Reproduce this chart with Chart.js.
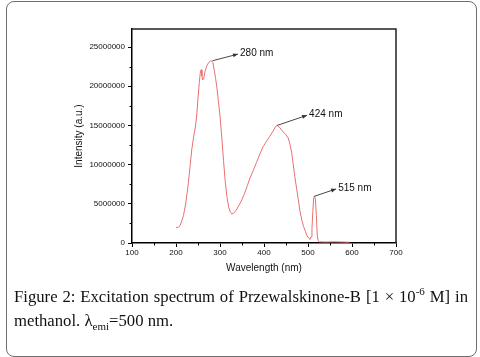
<!DOCTYPE html>
<html>
<head>
<meta charset="utf-8">
<script src="https://cdn.jsdelivr.net/npm/chart.js@4/dist/chart.umd.min.js"></script>
<style>
  html, body { margin: 0; padding: 0; background: #fff; }
  #wrap { position: relative; width: 480px; height: 357px; overflow: hidden; }
  #box { position: absolute; left: 6px; top: 1px; border: 1.5px solid #6e6e6e; border-radius: 8px; box-sizing: border-box; width: 471px; height: 356px; }
  #c { position: absolute; left: 0; top: 0; }
  #cap { position: absolute; left: 14px; top: 285px; width: 454px; font-family: "Liberation Serif", "Times New Roman", serif; font-size: 16.7px; line-height: 24px; color: #111; }
  #cap .l1 { text-align: justify; text-align-last: justify; white-space: normal; }
  #cap sup, #cap sub { font-size: 11px; line-height: 0; }
</style>
</head>
<body>
<div id="wrap">
  <div id="box"></div>
  <canvas id="c" width="480" height="357"></canvas>
  <div id="cap"><div class="l1">Figure 2: Excitation spectrum of Przewalskinone-B [1 × 10<sup>-6</sup> M] in</div><div>methanol. λ<sub>emi</sub>=500 nm.</div></div>
</div>
<script>
// Excitation spectrum (wavelength nm, intensity a.u.)
const wavelengths = [200,205,209,213,217,222,228,232,236,240,244,247,250,253,255,257,259,261,263,266,270,274,278,281,284,287,290,293,296,300,304,308,312,316,320,324,327,331,336,342,348,355,362,369,376,383,391,398,406,413,421,427,430,436,443,450,455,459,463,466,470,474,478,482,486,490,494,497,502,505,507,509,511,513,515,517,519,521,523,526,540,560,580,594];
const intensities = [2.0e6,2.0e6,2.2e6,2.8e6,3.5e6,5.0e6,7.6e6,9.8e6,12.0e6,13.5e6,14.8e6,16.2e6,18.5e6,20.5e6,21.6e6,22.1e6,21.3e6,20.8e6,21.0e6,21.9e6,22.6e6,23.0e6,23.2e6,23.25e6,23.0e6,22.0e6,21.0e6,19.8e6,18.3e6,16.2e6,13.5e6,10.5e6,7.8e6,5.8e6,4.5e6,3.9e6,3.7e6,3.8e6,4.1e6,4.7e6,5.3e6,6.2e6,7.3e6,8.4e6,9.3e6,10.3e6,11.4e6,12.3e6,13.0e6,13.6e6,14.3e6,14.9e6,15.0e6,14.7e6,14.2e6,13.8e6,13.4e6,12.6e6,11.5e6,10.2e6,8.5e6,7.0e6,5.5e6,4.0e6,2.9e6,2.1e6,1.5e6,1.0e6,0.6e6,0.45e6,0.8e6,1.8e6,4.0e6,5.8e6,6.0e6,5.5e6,3.5e6,1.0e6,0.3e6,0.15e6,0.12e6,0.15e6,0.12e6,0.1e6];

// Peak annotations
const peakLabels = ["280 nm", "424 nm", "515 nm"];
const peakAt = [[283, 23.25e6], [430, 15.0e6], [514, 5.95e6]];
const labelAt = [[341, 24.1e6], [498, 16.3e6], [564, 6.9e6]];

const xTicksMajor = [100,200,300,400,500,600,700];
const yTicksMajor = [0,5000000,10000000,15000000,20000000,25000000];
const yMinorTicks = [2.5e6,7.5e6,12.5e6,17.5e6,22.5e6];
const xMinorTicks = [150,250,350,450,550,650];

const points = wavelengths.map((w, i) => ({ x: w, y: intensities[i] }));

const framePlugin = {
  id: 'frame',
  afterDraw(chart) {
    const ctx = chart.ctx;
    const a = chart.chartArea;
    const xs = chart.scales.x, ys = chart.scales.y;
    ctx.save();
    ctx.strokeStyle = '#222';
    ctx.lineWidth = 1.5;
    ctx.beginPath();
    ctx.moveTo(a.left, a.top); ctx.lineTo(a.right, a.top); ctx.lineTo(a.right, a.bottom);
    ctx.stroke();
    ctx.lineWidth = 1;
    ctx.strokeStyle = '#000';
    ctx.beginPath();
    yMinorTicks.forEach(v => { const p = Math.round(ys.getPixelForValue(v)) + 0.5; ctx.moveTo(a.left, p); ctx.lineTo(a.left - 2.5, p); });
    xMinorTicks.forEach(v => { const p = Math.round(xs.getPixelForValue(v)) + 0.5; ctx.moveTo(p, a.bottom); ctx.lineTo(p, a.bottom + 2.5); });
    ctx.stroke();
    ctx.strokeStyle = '#333';
    ctx.fillStyle = '#333';
    ctx.lineWidth = 0.9;
    ctx.font = '10px "Liberation Sans", Arial, sans-serif';
    ctx.textBaseline = 'middle';
    ctx.textAlign = 'left';
    peakLabels.forEach((t, i) => {
      const x0 = xs.getPixelForValue(peakAt[i][0]), y0 = ys.getPixelForValue(peakAt[i][1]);
      const x1 = xs.getPixelForValue(labelAt[i][0]), y1 = ys.getPixelForValue(labelAt[i][1]);
      ctx.beginPath(); ctx.moveTo(x0, y0); ctx.lineTo(x1, y1); ctx.stroke();
      const ang = Math.atan2(y1 - y0, x1 - x0);
      const L = 5, W = 2;
      ctx.beginPath();
      ctx.moveTo(x1, y1);
      ctx.lineTo(x1 - L * Math.cos(ang) + W * Math.sin(ang), y1 - L * Math.sin(ang) - W * Math.cos(ang));
      ctx.lineTo(x1 - L * Math.cos(ang) - W * Math.sin(ang), y1 - L * Math.sin(ang) + W * Math.cos(ang));
      ctx.closePath(); ctx.fill();
      ctx.fillStyle = '#111';
      ctx.fillText(t, x1 + 2, y1 - 1);
      ctx.fillStyle = '#333';
    });
    ctx.restore();
  }
};

new Chart(document.getElementById('c'), {
  type: 'line',
  data: {
    datasets: [{
      data: points,
      borderColor: 'rgb(232,112,112)',
      borderWidth: 1,
      pointRadius: 0,
      tension: 0,
      fill: false
    }]
  },
  options: {
    responsive: false,
    animation: false,
    events: [],
    plugins: { legend: { display: false }, tooltip: { enabled: false } },
    layout: { padding: { left: 0, top: 29, right: 84, bottom: 82 } },
    scales: {
      x: {
        type: 'linear',
        min: 100, max: 700,
        afterFit(s) { s.height = 32; },
        afterBuildTicks(s) { s.ticks = xTicksMajor.map(v => ({ value: v })); },
        grid: { drawOnChartArea: false, drawTicks: true, tickLength: 4, color: '#000', lineWidth: 1 },
        border: { display: true, color: '#000', width: 1.5 },
        ticks: { color: '#111', font: { family: '"Liberation Sans", Arial, sans-serif', size: 8 }, padding: 1, maxRotation: 0, callback: v => String(v) },
        title: { display: true, text: 'Wavelength (nm)', color: '#111', font: { family: '"Liberation Sans", Arial, sans-serif', size: 10 }, padding: { top: 0, bottom: 1 } }
      },
      y: {
        type: 'linear',
        min: 0, max: 27.3e6,
        afterFit(s) { s.width = 132; },
        afterBuildTicks(s) { s.ticks = yTicksMajor.map(v => ({ value: v })); },
        grid: { drawOnChartArea: false, drawTicks: true, tickLength: 4, color: '#000', lineWidth: 1 },
        border: { display: true, color: '#000', width: 1.5 },
        ticks: { color: '#111', font: { family: '"Liberation Sans", Arial, sans-serif', size: 8 }, padding: 3, callback: v => String(v) },
        title: { display: true, text: 'Intensity (a.u.)', color: '#111', font: { family: '"Liberation Sans", Arial, sans-serif', size: 10 }, padding: { top: 73, bottom: 0 } }
      }
    }
  },
  plugins: [framePlugin]
});
</script>
</body>
</html>
